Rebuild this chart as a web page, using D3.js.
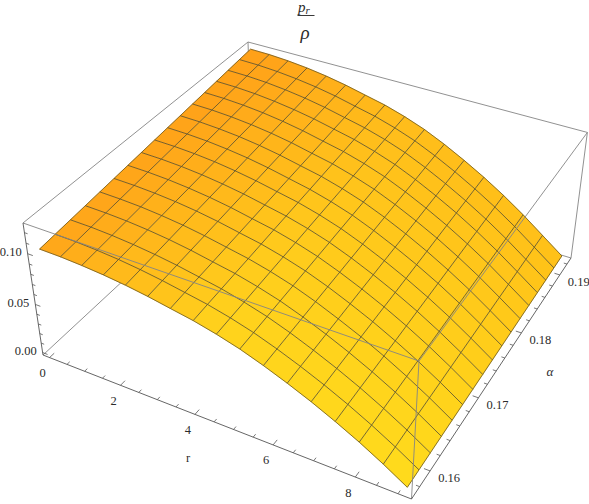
<!DOCTYPE html>
<html>
<head>
<meta charset="utf-8">
<script src="https://cdnjs.cloudflare.com/ajax/libs/d3/7.8.5/d3.min.js"></script>
<style>
  html, body { margin: 0; padding: 0; background: #fff; }
  text { font-family: "Liberation Serif", serif; fill: #2b2b2b; }
</style>
</head>
<body>
<div class="chart"></div>
<script>
/** Values */
const rValues = [0, 0.57, 1.14, 1.71, 2.28, 2.85, 3.42, 3.99, 4.56, 5.13, 5.70, 6.27, 6.84, 7.41, 7.98, 8.55, 9.12];
const alphaValues = [0.1572, 0.1594, 0.1616, 0.1638, 0.1660, 0.1682, 0.1704, 0.1726, 0.1748, 0.1770, 0.1792, 0.1814, 0.1836, 0.1858, 0.1880, 0.1902, 0.1924];

/** One row per alpha value, one column per r value */
const zValues = [
  [.1025,.1022,.1011,.0994,.0970,.0938,.0899,.0861,.0810,.0748,.0671,.0584,.0489,.0383,.0268,.0140,.0000],
  [.1040,.1037,.1026,.1009,.0984,.0952,.0913,.0874,.0822,.0759,.0681,.0593,.0496,.0389,.0271,.0142,.0001],
  [.1055,.1052,.1041,.1023,.0998,.0966,.0926,.0886,.0833,.0770,.0691,.0601,.0503,.0395,.0275,.0145,.0002],
  [.1070,.1066,.1056,.1038,.1013,.0980,.0939,.0899,.0845,.0781,.0701,.0610,.0510,.0400,.0279,.0147,.0003],
  [.1085,.1081,.1071,.1052,.1027,.0993,.0952,.0911,.0857,.0792,.0711,.0618,.0518,.0406,.0283,.0149,.0004],
  [.1100,.1096,.1085,.1067,.1041,.1007,.0965,.0924,.0869,.0803,.0721,.0627,.0525,.0411,.0287,.0151,.0005],
  [.1115,.1111,.1100,.1081,.1055,.1021,.0978,.0937,.0881,.0814,.0730,.0636,.0532,.0417,.0291,.0153,.0006],
  [.1130,.1126,.1115,.1096,.1069,.1035,.0992,.0949,.0893,.0825,.0740,.0644,.0539,.0423,.0295,.0155,.0007],
  [.1145,.1141,.1130,.1111,.1083,.1048,.1005,.0962,.0905,.0836,.0750,.0653,.0546,.0428,.0299,.0157,.0008],
  [.1160,.1156,.1145,.1125,.1098,.1062,.1018,.0974,.0916,.0847,.0760,.0661,.0553,.0434,.0303,.0159,.0009],
  [.1175,.1171,.1159,.1140,.1112,.1076,.1031,.0987,.0928,.0858,.0770,.0670,.0560,.0439,.0307,.0161,.0010],
  [.1190,.1186,.1174,.1154,.1126,.1090,.1044,.1000,.0940,.0869,.0779,.0678,.0568,.0445,.0311,.0163,.0011],
  [.1205,.1201,.1189,.1169,.1140,.1103,.1057,.1012,.0952,.0880,.0789,.0687,.0575,.0451,.0315,.0165,.0012],
  [.1220,.1216,.1204,.1183,.1154,.1117,.1071,.1025,.0964,.0891,.0799,.0695,.0582,.0456,.0318,.0167,.0013],
  [.1235,.1231,.1219,.1198,.1169,.1131,.1084,.1037,.0976,.0902,.0809,.0704,.0589,.0462,.0322,.0169,.0014],
  [.1250,.1246,.1233,.1212,.1183,.1145,.1097,.1050,.0988,.0913,.0819,.0713,.0596,.0468,.0326,.0171,.0015],
  [.1264,.1260,.1247,.1226,.1196,.1157,.1109,.1062,.0999,.0923,.0828,.0720,.0603,.0473,.0330,.0173,.0016]
];

/** Tick values */
const rMajorTicks = [0, 2, 4, 6, 8];
const rMinorTicks = [0.5, 1, 1.5, 2.5, 3, 3.5, 4.5, 5, 5.5, 6.5, 7, 7.5, 8.5, 9];
const alphaMajorTicks = [0.16, 0.17, 0.18, 0.19];
const alphaMinorTicks = [0.158, 0.162, 0.164, 0.166, 0.168, 0.172, 0.174, 0.176, 0.178, 0.182, 0.184, 0.186, 0.188, 0.192];
const zMajorTicks = [0, 0.05, 0.10];
const zMinorTicks = [0.01, 0.02, 0.03, 0.04, 0.06, 0.07, 0.08, 0.09, 0.11, 0.12];

let width = 589, height = 504;

/** Data to unit box, the plot leaves 2% padding inside the box */
let uScale = d3.scaleLinear().domain([0, 9.12]).range([0.02, 0.98]);
let vScale = d3.scaleLinear().domain([0.1572, 0.1924]).range([0.02, 0.98]);
let wScale = d3.scaleLinear().domain([0, 0.1264]).range([0.02, 0.98]);

/** Unit box to screen, perspective camera fitted on the box corners */
function project(u, v, w) {
    let d = 1 - 0.11083 * u + 0.2106 * v - 0.06735 * w;
    return [
        (322.89 * u + 262.08 * v - 21.55 * w + 43) / d,
        (88.70 * u - 159.96 * v - 147.02 * w + 355) / d
    ];
}

function surfacePoint(i, j) {
    return project(uScale(rValues[i]), vScale(alphaValues[j]), wScale(zValues[j][i]));
}

/** Light falls off differently on the front and on the back of the surface */
let frontColor = d3.scaleLinear().domain([0, 0.5, 1]).range(['#ffa51a', '#ffd41c', '#ffdb1c']);
let backColor = d3.scaleLinear().domain([0, 0.5, 1]).range(['#ff9f18', '#ffbc1b', '#ffc018']);
function cellColor(i, j) {
    let s = (i + 0.5) / (rValues.length - 1);
    let t = (j + 0.5) / (alphaValues.length - 1);
    return d3.interpolateRgb(frontColor(s), backColor(s))(t);
}

let svg = d3.select('.chart').append('svg')
    .attr('width', width)
    .attr('height', height)
    .style('display', 'block');

let lineGen = d3.line();

function boxLine(g, a, b, color) {
    g.append('path')
        .attr('d', lineGen([project(...a), project(...b)]))
        .attr('fill', 'none')
        .attr('stroke', color)
        .attr('stroke-width', 0.9);
}

/** Box edges behind the surface */
let backBox = svg.append('g');
[
    [[0, 0, 1], [0, 1, 1]], [[0, 1, 1], [1, 1, 1]], [[1, 1, 0], [1, 1, 1]],
    [[0, 0, 0], [0, 1, 0]], [[0, 1, 0], [1, 1, 0]], [[0, 1, 0], [0, 1, 1]]
].forEach(e => boxLine(backBox, e[0], e[1], '#858585'));

/** Surface cells, back to front */
let surface = svg.append('g');
let cells = [];
for (let j = alphaValues.length - 2; j >= 0; j--) {
    for (let i = 0; i < rValues.length - 1; i++) {
        cells.push({ i: i, j: j });
    }
}
surface.selectAll('.cell')
    .data(cells)
    .enter()
    .append('path')
    .attr('class', 'cell')
    .attr('d', d => lineGen([
        surfacePoint(d.i, d.j), surfacePoint(d.i + 1, d.j),
        surfacePoint(d.i + 1, d.j + 1), surfacePoint(d.i, d.j + 1)
    ]) + 'Z')
    .attr('fill', d => cellColor(d.i, d.j))
    .attr('stroke', d => cellColor(d.i, d.j))
    .attr('stroke-width', 0.5);

/** Mesh lines */
let mesh = svg.append('g')
    .attr('fill', 'none')
    .attr('stroke-linejoin', 'round');
alphaValues.forEach((a, j) => {
    let edge = j === 0 || j === alphaValues.length - 1;
    mesh.append('path')
        .attr('d', lineGen(rValues.map((r, i) => surfacePoint(i, j))))
        .attr('stroke', edge ? '#5c4a14' : '#4f4a30')
        .attr('stroke-opacity', edge ? 0.9 : 0.78)
        .attr('stroke-width', edge ? 0.8 : 1);
});
rValues.forEach((r, i) => {
    let edge = i === 0 || i === rValues.length - 1;
    mesh.append('path')
        .attr('d', lineGen(alphaValues.map((a, j) => surfacePoint(i, j))))
        .attr('stroke', edge ? '#5c4a14' : '#4f4a30')
        .attr('stroke-opacity', edge ? 0.9 : 0.78)
        .attr('stroke-width', edge ? 0.8 : 1);
});

/** Box edges in front of the surface */
let frontBox = svg.append('g');
[
    [[0, 0, 1], [1, 0, 1]], [[1, 0, 1], [1, 1, 1]], [[1, 0, 0], [1, 0, 1]]
].forEach(e => boxLine(frontBox, e[0], e[1], '#858585'));

/** Axes */
let axes = svg.append('g');
[
    [[0, 0, 0], [1, 0, 0]], [[1, 0, 0], [1, 1, 0]], [[0, 0, 0], [0, 0, 1]]
].forEach(e => boxLine(axes, e[0], e[1], '#555'));

function drawTick(a, b) {
    axes.append('path')
        .attr('d', lineGen([project(...a), project(...b)]))
        .attr('fill', 'none')
        .attr('stroke', '#555')
        .attr('stroke-width', 0.8);
}

rMajorTicks.forEach(t => drawTick([uScale(t), 0, 0], [uScale(t), 0.0185, 0]));
rMinorTicks.forEach(t => drawTick([uScale(t), 0, 0], [uScale(t), 0.011, 0]));
alphaMajorTicks.forEach(t => drawTick([1, vScale(t), 0], [0.985, vScale(t), 0]));
alphaMinorTicks.forEach(t => drawTick([1, vScale(t), 0], [0.991, vScale(t), 0]));
zMajorTicks.forEach(t => drawTick([0, 0, wScale(t)], [0.015, 0, wScale(t)]));
zMinorTicks.forEach(t => drawTick([0, 0, wScale(t)], [0.009, 0, wScale(t)]));

/** Tick labels */
function tickLabel(p, dx, dy, anchor, label) {
    svg.append('text')
        .attr('x', p[0] + dx)
        .attr('y', p[1] + dy)
        .attr('text-anchor', anchor)
        .attr('dominant-baseline', 'central')
        .style('font-size', '12.5px')
        .text(label);
}
rMajorTicks.forEach(t => tickLabel(project(uScale(t), 0, 0), -7, 15.5, 'middle', d3.format('d')(t)));
alphaMajorTicks.forEach(t => tickLabel(project(1, vScale(t), 0), 19, 7, 'middle', d3.format('.2f')(t)));
zMajorTicks.forEach(t => tickLabel(project(0, 0, wScale(t)), -6, -1.5, 'end', d3.format('.2f')(t)));

/** Axis names */
svg.append('text')
    .attr('x', 188).attr('y', 458)
    .attr('text-anchor', 'middle')
    .attr('dominant-baseline', 'central')
    .style('font-size', '12.5px')
    .text('r');
svg.append('text')
    .attr('x', 550).attr('y', 371)
    .attr('text-anchor', 'middle')
    .attr('dominant-baseline', 'central')
    .style('font-size', '13px')
    .style('font-style', 'italic')
    .text('α');

/** Fraction on top */
let title = svg.append('text')
    .attr('x', 298).attr('y', 12)
    .style('font-size', '15px')
    .style('font-style', 'italic');
title.append('tspan').text('p');
title.append('tspan')
    .attr('dy', 1.5)
    .style('font-size', '11px')
    .text('r');
svg.append('line')
    .attr('x1', 297.5).attr('x2', 314.5)
    .attr('y1', 15.5).attr('y2', 15.5)
    .attr('stroke', '#222')
    .attr('stroke-width', 0.9);
svg.append('text')
    .attr('x', 305).attr('y', 39)
    .attr('text-anchor', 'middle')
    .style('font-size', '19px')
    .style('font-style', 'italic')
    .text('ρ');
</script>
</body>
</html>
